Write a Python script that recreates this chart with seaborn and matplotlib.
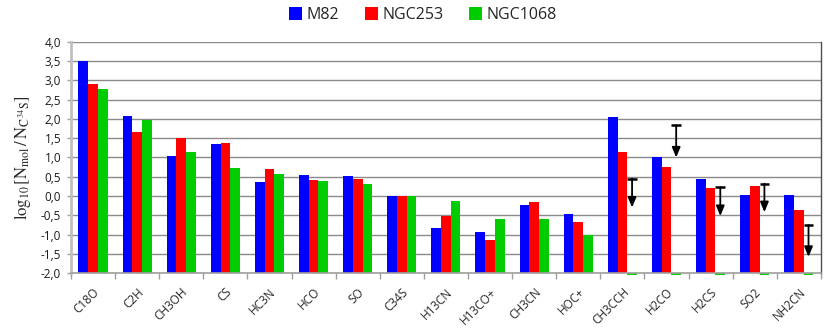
import numpy as np
import pandas as pd
import matplotlib
matplotlib.use("Agg")
import matplotlib.pyplot as plt
from matplotlib.patches import Patch
from matplotlib.ticker import MultipleLocator, FixedLocator, FuncFormatter
import seaborn as sns

# Daten
molecules = ['C18O', 'C2H', 'CH3OH', 'CS', 'HC3N', 'HCO', 'SO', 'C34S',
             'H13CN', 'H13CO+', 'CH3CN', 'HOC+', 'CH3CCH', 'H2CO', 'H2CS',
             'SO2', 'NH2CN']
m82 = [3.50, 2.07, 1.05, 1.35, 0.37, 0.55, 0.52, 0.00,
       -0.82, -0.93, -0.24, -0.46, 2.05, 1.00, 0.45, 0.03, 0.03]
ngc253 = [2.90, 1.65, 1.50, 1.37, 0.70, 0.41, 0.43, 0.00,
          -0.52, -1.15, -0.15, -0.67, 1.13, 0.76, 0.20, 0.25, -0.36]
ngc1068 = [2.78, 1.97, 1.15, 0.72, 0.57, 0.38, 0.30, 0.00,
           -0.13, -0.59, -0.61, -1.01, -2.05, -2.05, -2.05, -2.05, -2.05]
galaxies = ['M82', 'NGC253', 'NGC1068']
colors = ['#0000ff', '#ff0000', '#00cc00']

# obere Grenzen fuer NGC1068
ul_mols = ['CH3CCH', 'H2CO', 'H2CS', 'SO2', 'NH2CN']
ul_top = [0.45, 1.83, 0.23, 0.32, -0.76]
ul_tip = [-0.30, 1.00, -0.52, -0.42, -1.58]

base = -2.0
df = pd.DataFrame({
    'molecule': molecules * 3,
    'galaxy': np.repeat(galaxies, len(molecules)),
    'value': m82 + ngc253 + ngc1068,
})
df['height'] = df['value'] - base

sns.set_style('white')
plt.rcParams['mathtext.fontset'] = 'stix'
fig = plt.figure(figsize=(8.3, 3.35), dpi=100)
ax = fig.add_axes([0.0855, 0.185, 0.9035, 0.69])

sns.barplot(data=df, x='molecule', y='height', hue='galaxy', order=molecules,
            hue_order=galaxies, palette=colors, saturation=1, width=0.66,
            errorbar=None, bottom=base, clip_on=False, linewidth=0,
            legend=False, ax=ax)

# Pfeile (obere Grenzen)
for mol, top, tip in zip(ul_mols, ul_top, ul_tip):
    x = molecules.index(mol) + 0.22
    ax.plot([x - 0.11, x + 0.11], [top, top], color='black', lw=1.8,
            solid_capstyle='butt', zorder=5)
    ax.annotate('', xy=(x, tip), xytext=(x, top),
                arrowprops=dict(arrowstyle='-|>,head_width=0.25,head_length=0.6',
                                color='black', lw=1.3, shrinkA=0, shrinkB=0),
                zorder=5)

ax.set_ylim(-2, 4)
ax.set_xlim(-0.5, len(molecules) - 0.5)
ax.yaxis.set_major_locator(MultipleLocator(0.5))
ax.yaxis.set_major_formatter(FuncFormatter(
    lambda v, p: f'{v:.1f}'.replace('.', ',').replace('-0,0', '0,0')))
ax.yaxis.grid(True, color='#8a8a8a', lw=1.0)
ax.set_axisbelow(True)

ax.xaxis.set_minor_locator(FixedLocator(np.arange(-0.5, len(molecules), 1)))
ax.tick_params(axis='x', which='major', length=0, pad=9)
ax.tick_params(axis='x', which='minor', length=4, width=1, color='#a0a0a0',
               direction='out', bottom=True)
ax.tick_params(axis='y', length=3, width=1, color='#a0a0a0', left=True,
               labelsize=8.5, labelcolor='#1a1a1a', pad=4)
for lab in ax.get_xticklabels():
    lab.set_rotation(45)
    lab.set_ha('right')
    lab.set_rotation_mode('anchor')
    lab.set_fontsize(8.5)
    lab.set_fontfamily('Open Sans')
for lab in ax.get_yticklabels():
    lab.set_fontfamily('Open Sans')

for side in ['left', 'bottom', 'right']:
    ax.spines[side].set_visible(True)
ax.spines['top'].set_visible(False)
ax.spines['left'].set_color('#c0c0c0')
ax.spines['left'].set_linewidth(2)
ax.spines['bottom'].set_color('#a0a0a0')
ax.spines['bottom'].set_linewidth(1.2)
ax.spines['right'].set_color('#505050')
ax.spines['right'].set_linewidth(1.0)

ax.set_xlabel('')
ax.set_ylabel(r'$\log_{10}[\mathrm{N_{mol}\,/\,N_{C^{\,34}S}}]$', fontsize=12,
              labelpad=6)

handles = [Patch(facecolor=c, edgecolor='none') for c in colors]
fig.legend(handles, galaxies, loc='center', bbox_to_anchor=(0.51, 0.955),
           ncol=3, frameon=False, handlelength=0.8, handleheight=0.8,
           handletextpad=0.3, columnspacing=1.6,
           prop={'family': 'Open Sans', 'size': 11.5})

fig.savefig('out.png', dpi=100)
